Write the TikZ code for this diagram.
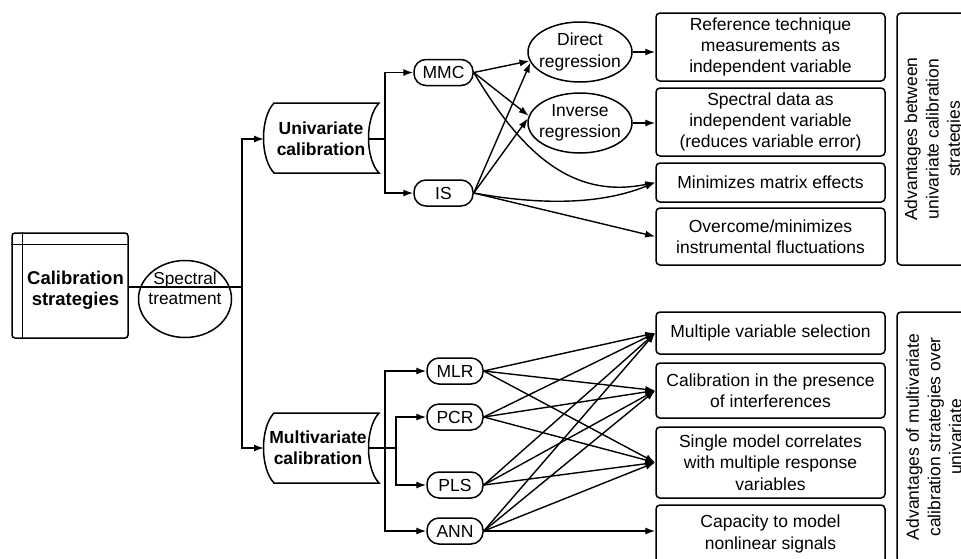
\documentclass[tikz,border=0pt]{standalone}
\usepackage{fontspec}
\setmainfont{Liberation Sans}
\usetikzlibrary{arrows.meta,shapes.geometric}
\tikzset{
  base/.style={line width=1.5pt, draw=black},
  arr/.style={line width=1.4pt, draw=black, -{Latex[length=10pt,width=7pt]}},
  txt/.style={font=\fontsize{17.5}{21.3}\selectfont, align=center},
  btxt/.style={font=\fontsize{17.5}{21.3}\selectfont\bfseries, align=center},
  box/.style={draw, line width=1.5pt, rounded corners=4pt, minimum width=229pt, inner sep=0pt, txt},
  sidebox/.style={draw, line width=1.5pt, rounded corners=4pt, rotate=90, minimum height=74pt, inner sep=0pt, txt},
  pill/.style={draw, line width=1.5pt, rounded corners=12pt, minimum height=26pt, inner sep=0pt, txt},
  oval/.style={draw, ellipse, line width=1.5pt, inner sep=-10pt, txt},
}
\begin{document}
\begin{tikzpicture}[x=1pt,y=-1pt]
\useasboundingbox (0,0) rectangle (961,558);
\clip (0,0) rectangle (961,558);

% left part
\node[draw, line width=1.5pt, rounded corners=3pt, minimum width=116pt, minimum height=105pt, inner sep=0pt] (calib) at (70,285.5) {};
\draw[base] ([xshift=11pt]calib.north west) -- ([xshift=11pt]calib.south west);
\draw[base] ([yshift=-12pt]calib.north west) -- ([yshift=-12pt]calib.north east);
\node[font=\fontsize{18.5}{21}\selectfont\bfseries, align=center] (calibtxt) at (75.5,290) {Calibration\\strategies};

\node[draw, ellipse, line width=1.5pt, minimum width=93pt, minimum height=77pt, inner sep=0pt] (spec) at (185,299) {};
\node[txt, font=\fontsize{17.3}{20}\selectfont] (spectxt) at (185,288) {Spectral\\treatment};

\coordinate (tr) at (242,287);

% stored-data shapes
\draw[base] (274,103) -- (379,103) .. controls (365,118) and (365,158) .. (379,173) -- (274,173) .. controls (260,158) and (260,118) .. (274,103) -- cycle;
\node[btxt] (uni) at (321,139) {Univariate\\calibration};
\coordinate (uniW) at (264,139);
\coordinate (uniE) at (368.5,139);
\coordinate (uniJ) at (385,139);

\draw[base] (274,413) -- (379,413) .. controls (365,428) and (365,468) .. (379,483) -- (274,483) .. controls (260,468) and (260,428) .. (274,413) -- cycle;
\node[btxt] (mul) at (318,448) {Multivariate\\calibration};
\coordinate (mulW) at (264,448);
\coordinate (mulE) at (368.5,448);
\coordinate (mulJ) at (385,448);
\coordinate (mulK) at (396,448);

% method nodes
\node[pill, minimum width=59pt] (mmc) at (443.5,72.5) {MMC};
\node[pill, minimum width=59pt] (is) at (443.5,193) {IS};
\node[pill, minimum width=56pt] (mlr) at (455,371) {MLR};
\node[pill, minimum width=56pt] (pcr) at (455,417) {PCR};
\node[pill, minimum width=56pt] (pls) at (455,485) {PLS};
\node[pill, minimum width=56pt] (ann) at (455,531) {ANN};

\node[oval, minimum width=104pt, minimum height=60pt] (dir) at (580,52) {Direct\\regression};
\node[oval, minimum width=104pt, minimum height=60pt] (inv) at (580,123) {Inverse\\regression};

% right boxes
\node[box, minimum height=68pt] (b1) at (770.5,47) {Reference technique\\measurements as\\independent variable};
\node[box, minimum height=68pt] (b2) at (770.5,122) {Spectral data as\\independent variable\\(reduces variable error)};
\node[box, minimum height=39pt] (b3) at (770.5,182.5) {Minimizes matrix effects};
\node[box, minimum height=57pt] (b4) at (770.5,236.5) {Overcome/minimizes\\instrumental fluctuations};
\node[box, minimum height=42pt] (b5) at (770.5,333) {Multiple variable selection};
\node[box, minimum height=55pt] (b6) at (770.5,390.5) {Calibration in the presence\\of interferences};
\node[box, minimum height=71pt] (b7) at (770.5,462.5) {Single model correlates\\with multiple response\\variables};
\node[box, minimum height=58pt] (b8) at (770.5,534) {Capacity to model\\nonlinear signals};

\node[sidebox, minimum width=252pt] (s1) at (934,139) {Advantages between\\univariate calibration\\strategies};
\node[sidebox, minimum width=250pt] (s2) at (934,437) {Advantages of multivariate\\calibration strategies over\\univariate};

% connectors
\draw[base] (calib.east |- tr) -- (tr);
\draw[arr] (tr) |- (uniW);
\draw[arr] (tr) |- (mulW);

\draw[base] (uniE) -- (uniJ);
\draw[arr] (uniJ) |- (mmc.west);
\draw[arr] (uniJ) |- (is.west);

\draw[base] (mulE) -- (mulK);
\draw[arr] (mulJ) |- (mlr.west);
\draw[arr] (mulJ) |- (ann.west);
\draw[arr] (mulK) |- (pcr.west);
\draw[arr] (mulK) |- (pls.west);

\draw[arr] (mmc.east) -- (dir.190);
\draw[arr] (mmc.east) -- (inv.172);
\draw[arr] (is.east) -- (dir.192);
\draw[arr] (is.east) -- (inv.175);
\draw[arr] (mmc.east) .. controls (520,150) and (570,200) .. (b3.west);
\draw[arr] (is.east) .. controls (540,205) and (600,205) .. (b3.west);
\draw[arr] (is.east) -- (b4.west);
\draw[arr] (dir.east) -- (dir.east -| b1.west);
\draw[arr] (inv.east) -- (inv.east -| b2.west);

\foreach \s in {mlr,pcr,pls,ann}{
  \foreach \t in {b5,b6,b7}{
    \draw[arr] (\s.east) -- (\t.west);
  }
}
\draw[arr] (ann.east) -- (ann.east -| b8.west);
\end{tikzpicture}
\end{document}
